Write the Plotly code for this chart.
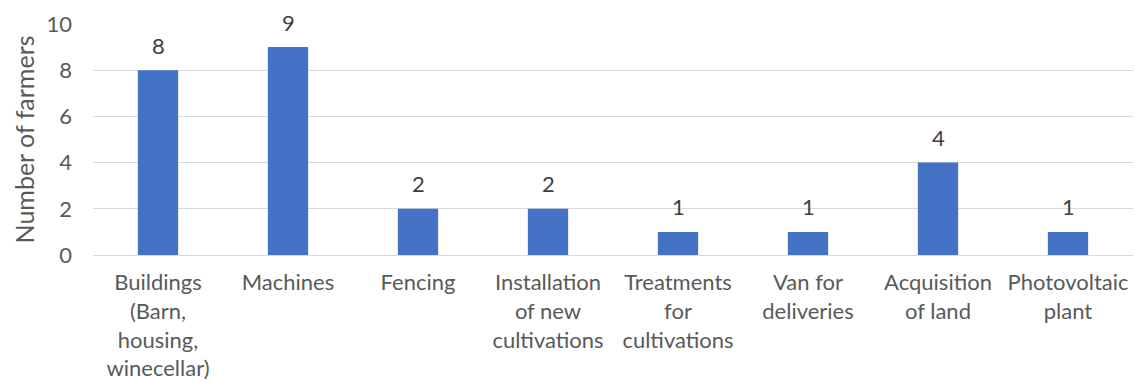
import plotly.graph_objects as go

categories = ["Buildings<br>(Barn,<br>housing,<br>winecellar)", "Machines", "Fencing",
              "Installation<br>of new<br>cultivations", "Treatments<br>for<br>cultivations",
              "Van for<br>deliveries", "Acquisition<br>of land", "Photovoltaic<br>plant"]
values = [8, 9, 2, 2, 1, 1, 4, 1]
y_ticks = [0, 2, 4, 6, 8, 10]

FONT = "Lato"
TXT = "#595959"
FS = 22

fig = go.Figure()
fig.add_trace(go.Bar(x=categories, y=values, marker=dict(color="#4472C4", line=dict(width=0)),
                     width=0.31, hoverinfo="skip"))

for c, v in zip(categories, values):
    fig.add_annotation(x=c, y=v, text=str(v), showarrow=False, yshift=25,
                       font=dict(family=FONT, size=FS, color="#404040"))

fig.update_layout(
    width=1135, height=383,
    margin=dict(l=93, r=2, t=24, b=128),
    paper_bgcolor="white", plot_bgcolor="white",
    showlegend=False,
    font=dict(family=FONT, size=FS, color=TXT),
)
fig.update_xaxes(showgrid=False, showline=False, tickfont=dict(family=FONT, size=FS, color=TXT),
                 ticks="outside", ticklen=8, tickcolor="rgba(0,0,0,0)", automargin=False)
fig.update_yaxes(range=[0, 10], tickvals=y_ticks, showgrid=True, gridcolor="#D9D9D9", gridwidth=1,
                 zeroline=True, zerolinecolor="#D9D9D9", zerolinewidth=1, showline=False,
                 ticklabelstandoff=20, automargin=False,
                 tickfont=dict(family=FONT, size=FS, color=TXT),
                 title=dict(text="Number of farmers", font=dict(family=FONT, size=25, color=TXT), standoff=4))

fig.write_html("out.html")
